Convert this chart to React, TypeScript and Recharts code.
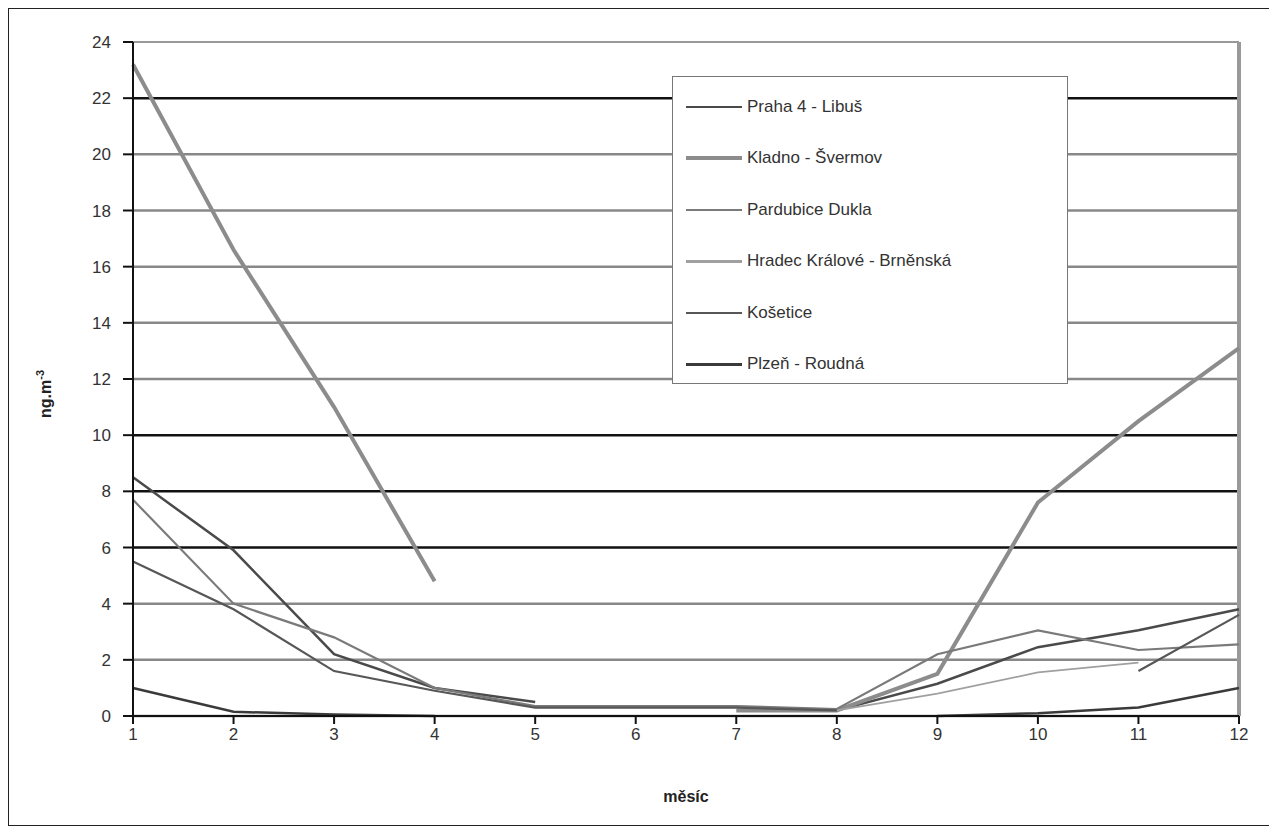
import { LineChart, Line, XAxis, YAxis, ReferenceLine, Legend } from "recharts";

const months = [1, 2, 3, 4, 5, 6, 7, 8, 9, 10, 11, 12];

const praha = [8.5, 5.9, 2.2, 1.0, 0.5, null, null, 0.2, 1.15, 2.45, 3.05, 3.8];
const kladno = [23.2, 16.6, 11.0, 4.8, null, null, 0.2, 0.2, 1.5, 7.6, 10.5, 13.1];
const pardubice = [7.7, 4.0, 2.8, 1.0, 0.35, 0.35, 0.35, 0.25, 2.2, 3.05, 2.35, 2.55];
const hradec = [null, null, null, null, null, null, null, 0.2, 0.8, 1.55, 1.9, null];
const kosetice = [5.5, 3.8, 1.6, 0.9, 0.3, 0.3, 0.3, 0.2, null, null, 1.6, 3.6];
const plzen = [1.0, 0.15, 0.05, 0, null, null, null, null, 0, 0.1, 0.3, 1.0];

const yTicks = [0, 2, 4, 6, 8, 10, 12, 14, 16, 18, 20, 22, 24];
const darkGrid = [22, 10, 8, 6];

const series = [
  { key: "praha", name: "Praha 4 - Libuš", values: praha, color: "#4a4a4a", width: 2.5 },
  { key: "kladno", name: "Kladno - Švermov", values: kladno, color: "#8c8c8c", width: 4 },
  { key: "pardubice", name: "Pardubice Dukla", values: pardubice, color: "#7a7a7a", width: 2.2 },
  { key: "hradec", name: "Hradec Králové - Brněnská", values: hradec, color: "#a0a0a0", width: 1.8 },
  { key: "kosetice", name: "Košetice", values: kosetice, color: "#575757", width: 2.2 },
  { key: "plzen", name: "Plzeň - Roudná", values: plzen, color: "#3a3a3a", width: 2.5 },
];

const data = months.map((m, i) => {
  const row: Record<string, number | null> = { month: m };
  series.forEach((s) => {
    row[s.key] = s.values[i];
  });
  return row;
});

const font = "'Liberation Sans', Arial, sans-serif";

const LegendBox = () => (
  <div
    style={{
      width: 396,
      height: 308,
      border: "1.5px solid #777",
      background: "#fff",
      boxSizing: "border-box",
      paddingTop: 4,
      fontFamily: font,
      fontSize: 17,
      color: "#333",
    }}
  >
    {series.map((s) => (
      <div key={s.key} style={{ display: "flex", alignItems: "center", height: 51.5 }}>
        <div style={{ width: 56, height: Math.max(s.width, 2.5), background: s.color, marginLeft: 13, marginRight: 5 }} />
        <span>{s.name}</span>
      </div>
    ))}
  </div>
);

const YLabel = () => (
  <text x={42} y={385} transform="rotate(-90 42 385)" textAnchor="middle" fontFamily={font} fontSize={16} fontWeight="bold" fill="#222">
    ng.m<tspan dy={-7} fontSize={11}>-3</tspan>
  </text>
);

export default function App() {
  return (
    <div style={{ width: 1266, height: 818, border: "1.5px solid #222", position: "relative", boxSizing: "border-box", background: "#fff" }}>
      <LineChart width={1263} height={815} data={data} margin={{ top: 33, right: 33, left: 0, bottom: 8 }}>
        {yTicks.map((t) => (
          <ReferenceLine
            key={t}
            y={t}
            stroke={t === 24 ? "#999" : darkGrid.includes(t) ? "#111" : "#888"}
            strokeWidth={t === 24 ? 2 : 2.5}
          />
        ))}
        <ReferenceLine x={12} stroke="#999" strokeWidth={4} />
        <XAxis
          dataKey="month"
          type="number"
          domain={[1, 12]}
          ticks={months}
          interval={0}
          height={100}
          stroke="#111"
          strokeWidth={2}
          tickSize={8}
          tickMargin={4}
          tick={{ fill: "#333", fontSize: 17, fontFamily: font }}
          label={{ value: "měsíc", position: "insideBottom", offset: 14, style: { fill: "#222", fontSize: 16, fontWeight: "bold", fontFamily: font } }}
        />
        <YAxis
          domain={[0, 24]}
          ticks={yTicks}
          interval={0}
          width={124}
          stroke="#111"
          strokeWidth={2}
          tickSize={10}
          tickMargin={12}
          tick={{ fill: "#333", fontSize: 17, fontFamily: font }}
          label={<YLabel />}
        />
        {series.map((s) => (
          <Line
            key={s.key}
            type="linear"
            dataKey={s.key}
            name={s.name}
            stroke={s.color}
            strokeWidth={s.width}
            dot={false}
            isAnimationActive={false}
          />
        ))}
        <Legend
          layout="vertical"
          align="center"
          verticalAlign="middle"
          content={<LegendBox />}
          wrapperStyle={{ position: "absolute", left: 663, top: 67, width: 396, height: 308 }}
        />
      </LineChart>
    </div>
  );
}
